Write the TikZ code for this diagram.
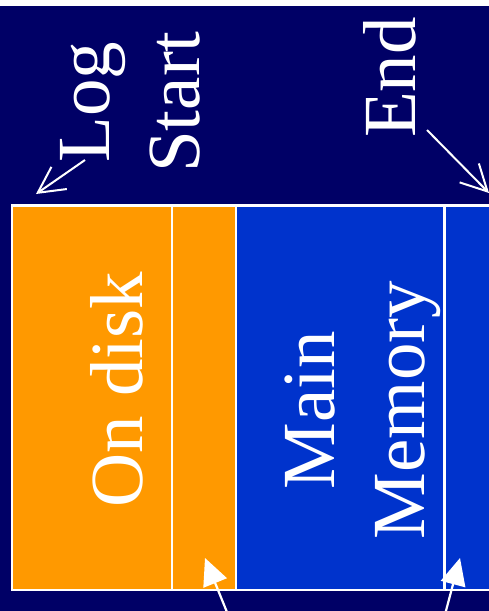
\documentclass[tikz,border=0pt]{standalone}
\usepackage{fontspec}
\setmainfont{Liberation Serif}
\usetikzlibrary{arrows.meta}
\definecolor{navy}{HTML}{000066}
\definecolor{diskorange}{HTML}{FF9900}
\definecolor{memblue}{HTML}{0033CC}
\begin{document}
\begin{tikzpicture}[x=1pt,y=-1pt,
  lbl/.style={text=white, font=\fontsize{75}{90}\selectfont, rotate=90, inner sep=0pt},
  divider/.style={draw=white, line width=2.3pt},
  openarrow/.style={draw=white, line width=2pt, -{Straight Barb[length=26pt,width=27pt]}},
  solidarrow/.style={draw=white, line width=2.2pt, -{Triangle[length=27pt,width=25pt]}}]
\path[use as bounding box] (0,0) rectangle (489,611);
\clip (0,0) rectangle (489,611);
\fill[white] (0,0) rectangle (489,6);
\fill[navy] (0,6) rectangle (489,611);
% log layout
\fill[diskorange] (12,205.5) rectangle (236,589.7);
\fill[memblue] (236,205.5) rectangle (495,589.7);
\draw[divider] (12,205.5) rectangle (495,589.7);
\draw[divider] (172,205.5) -- (172,589.7);
\draw[divider] (236,205.5) -- (236,589.7);
\draw[divider] (444.5,205.5) -- (444.5,589.7);
% labels
\node[lbl, align=center] (logstart) at (130,102) {Log\\Start};
\node[lbl, anchor=base] (endlbl) at (415,77.5) {End};
\node[lbl, anchor=base] (ondisk) at (142,389.5) {On disk};
\node[lbl, align=center] (mainmem) at (363,410) {Main\\Memory};
% arrows
\coordinate (logtail) at (85,160);
\coordinate (logtip) at (36,194);
\coordinate (endtail) at (427,130);
\coordinate (endtip) at (489,193);
\coordinate (ptrAtail) at (231,622);
\coordinate (ptrAtip) at (205,558);
\coordinate (ptrBtail) at (443,622);
\coordinate (ptrBtip) at (460,558);
\draw[openarrow] (logtail) -- (logtip);
\draw[openarrow] (endtail) -- (endtip);
\draw[solidarrow] (ptrAtail) -- (ptrAtip);
\draw[solidarrow] (ptrBtail) -- (ptrBtip);
\end{tikzpicture}
\end{document}
